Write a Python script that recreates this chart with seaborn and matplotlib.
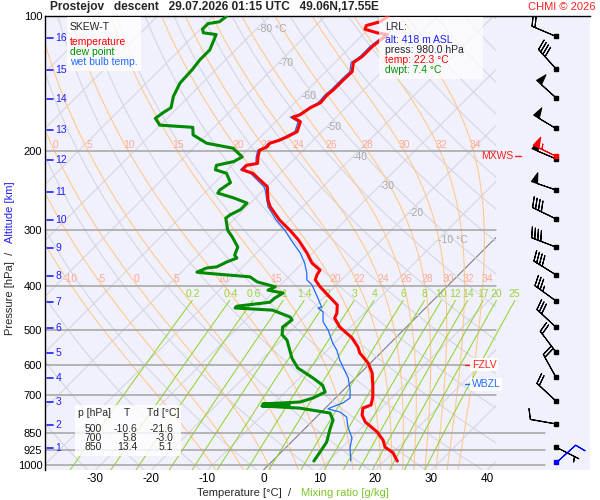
import numpy as np
import pandas as pd
import matplotlib
matplotlib.use("Agg")
import matplotlib.pyplot as plt
from matplotlib.patches import Rectangle
from matplotlib.ticker import NullLocator
import seaborn as sns

# ---------------- sounding ----------------
temp_p = [100, 103, 105, 107, 109, 110, 117, 123, 127, 133, 139, 146, 150, 156, 160,
          166, 168, 172, 181, 186, 189, 192, 196, 199, 206, 213, 215, 220, 224, 240,
          257, 266, 285, 300, 315, 337, 355, 368, 377, 387, 401, 423, 440, 459, 471,
          493, 521, 546, 563, 593, 624, 670, 706, 735, 747, 774, 802, 844, 880, 912,
          940, 980]
temp_t = [-58.8, -59.2, -61.0, -60.6, -57.8, -55.6, -56.2, -56.2, -56.7, -55.3, -55.4,
          -55.4, -55.6, -55.4, -56.3, -56.9, -57.8, -55.6, -54.4, -55.3, -56.0, -57.2,
          -57.1, -57.8, -56.9, -55.8, -57.4, -57.4, -54.9, -49.9, -47.4, -45.8, -41.7,
          -38.1, -34.9, -31.0, -28.3, -25.6, -25.3, -24.7, -22.6, -19.0, -16.3, -14.9,
          -14.4, -11.9, -7.8, -5.1, -3.7, -0.4, 2.1, 4.7, 6.5, 7.6, 6.7, 7.8, 9.6, 13.5,
          16.0, 17.6, 20.1, 22.3]

dwpt_p = [100, 103, 104, 107, 109, 110, 119, 125, 132, 141, 151, 160, 164, 169, 175,
          177, 184, 192, 197, 206, 211, 215, 220, 224, 235, 244, 248, 254, 261, 270,
          277, 282, 300, 311, 327, 341, 346, 353, 362, 364, 372, 374, 381, 391, 401,
          408, 414, 425, 434, 443, 447, 452, 468, 475, 493, 513, 527, 555, 578, 608,
          640, 664, 688, 709, 724, 731, 735, 739, 747, 766, 794, 836, 889, 936, 980]
dwpt_t = [-87.6, -87.9, -89.6, -89.6, -88.8, -86.2, -84.6, -84.6, -84.2, -84.0, -82.8,
          -81.2, -81.7, -82.1, -80.1, -73.8, -72.4, -68.5, -62.9, -59.7, -60.4, -62.8,
          -62.2, -59.6, -57.2, -57.8, -57.6, -54.0, -50.6, -50.6, -51.5, -51.7, -49.2,
          -47.1, -44.4, -43.5, -42.6, -43.7, -44.6, -46.2, -47.2, -45.3, -36.9, -34.7,
          -30.6, -31.3, -28.1, -28.7, -28.8, -34.0, -34.0, -26.9, -22.6, -21.7, -22.1,
          -20.8, -19.0, -16.7, -14.9, -12.1, -7.6, -4.6, -2.9, -4.0, -5.6, -11.9, -7.0,
          -11.7, -4.6, 1.7, 3.5, 4.7, 6.3, 6.9, 7.4]

wetb_p = [110, 117, 123, 127, 133, 139, 146, 150, 156, 160, 166, 168, 172, 181, 186,
          189, 192, 196, 199, 206, 213, 215, 220, 224, 240, 244, 266, 285, 300, 320,
          337, 355, 374, 387, 397, 423, 445, 447, 456, 480, 500, 535, 555, 584, 640,
          681, 709, 728, 743, 750, 762, 782, 823, 871, 916, 980]
wetb_t = [-56.0, -56.6, -56.6, -57.1, -55.7, -55.8, -55.8, -56.0, -55.8, -56.6, -57.2,
          -58.2, -56.0, -54.8, -55.7, -56.4, -57.5, -57.4, -58.1, -57.2, -56.1, -57.7,
          -57.7, -55.3, -50.5, -49.7, -46.2, -42.3, -39.0, -35.3, -32.2, -29.6, -27.4,
          -26.2, -24.4, -21.2, -18.7, -19.2, -17.6, -15.8, -13.5, -10.3, -8.3, -6.0,
          -1.3, 1.2, 2.6, 2.2, 1.0, 0.6, 3.3, 5.4, 7.4, 10.1, 11.5, 14.0]

# wind barbs (knots, direction from)
wind_p = [111, 131, 152, 178, 208, 244, 283, 327, 377, 431, 493, 560, 637, 720, 810, 912]
wind_dir = [293, 318, 312, 301, 293, 289, 296, 291, 302, 306, 313, 323, 331, 313, 280, 117]
wind_kt = [20, 40, 50, 50, 50, 50, 40, 40, 40, 35, 30, 20, 20, 20, 10, 5]
mxws_p, mxws_dir, mxws_kt = 205, 296, 55
sfc_p, sfc_dir, sfc_kt = 984, 48, 10

# altitude scale
alt_km = [16, 15, 14, 13, 12, 11, 10, 9, 8, 7, 6, 5, 4, 3, 2, 1]
alt_p = [111.9, 131.9, 153.0, 179.4, 209.3, 246.6, 284.7, 328.6, 379.4, 433.5,
         495.3, 563.1, 640.1, 723.9, 814.5, 916.5]

# table / LRL
tab_p = [500, 700, 850]
tab_t = [-10.6, 5.8, 13.4]
tab_td = [-21.6, -3.0, 5.1]
lrl_alt, lrl_press, lrl_temp, lrl_dwpt = 418, 980.0, 22.3, 7.4

# background lines
isobars = [200, 300, 400, 500, 600, 700, 850, 925, 1000]
isotherms = list(range(-170, 50, 10))
iso_labels = [-80, -70, -60, -50, -40, -30, -20, -10]
dry_theta = list(range(230, 490, 10))
moist_thw = [-10, -5, 0, 5, 10, 15, 20, 22, 24, 26, 28, 30, 32, 34]
mix_w = [0.2, 0.4, 0.6, 1, 1.4, 2, 3, 4, 6, 8, 10, 12, 14, 17, 20, 25]
xticks_t = [-30, -20, -10, 0, 10, 20, 30, 40]

# ---------------- geometry ----------------
P_BOT, P_TOP = 1026.0, 100.0
SKEW = 195 / 5.6          # 45 degree skew
X_MIN, X_MAX = -39.0, 58.3
X_CLIP = 41.5
X_BARB = 52.2


def skew_x(t, p):
    return np.asarray(t, float) + SKEW * np.log(P_BOT / np.asarray(p, float))


Rd, Cp, Lv, EPS = 287.04, 1005.7, 2.501e6, 0.622


def sat_mix(tk, p):
    tc = tk - 273.15
    es = 6.112 * np.exp(17.67 * tc / (tc + 243.5))
    return EPS * es / (p - es)


def dtdlnp(tk, p):
    r = sat_mix(tk, p)
    return (Rd * tk + Lv * r) / (Cp + Lv * Lv * r * EPS / (Rd * tk * tk))


def moist_adiabat(thw, p_end, n=250):
    lp = np.linspace(np.log(1000.0), np.log(p_end), n)
    t = [thw + 273.15]
    for a, b in zip(lp[:-1], lp[1:]):
        h = b - a
        tk = t[-1]
        k1 = dtdlnp(tk, np.exp(a))
        k2 = dtdlnp(tk + 0.5 * h * k1, np.exp(a + 0.5 * h))
        k3 = dtdlnp(tk + 0.5 * h * k2, np.exp(a + 0.5 * h))
        k4 = dtdlnp(tk + h * k3, np.exp(b))
        t.append(tk + h * (k1 + 2 * k2 + 2 * k3 + k4) / 6)
    return np.exp(lp), np.array(t) - 273.15


def zero_level(tt, pp):
    # lowest level (from the ground up) where the profile crosses 0 degC
    tt = np.asarray(tt, float)
    pp = np.asarray(pp, float)
    k = np.where((tt[:-1] < 0) & (tt[1:] >= 0))[0][-1]
    return np.exp(np.interp(0, [tt[k], tt[k + 1]], np.log([pp[k], pp[k + 1]])))


def fx(x):
    return x / 600


def fy(y):
    return 1 - y / 500


sns.set_style("white")
plt.rcParams['font.family'] = ['Liberation Sans', 'DejaVu Sans']
plt.rcParams['axes.unicode_minus'] = False

fig = plt.figure(figsize=(6, 5), dpi=100)
ax = fig.add_axes([fx(45), fy(470), 545 / 600, 454 / 500])
ax.set_facecolor('#F1F1FD')
ax.set_yscale('log')

clip = Rectangle((X_MIN, P_TOP), X_CLIP - X_MIN, P_BOT - P_TOP, transform=ax.transData)

# isotherms and dry adiabats
pp = np.geomspace(P_BOT, P_TOP, 120)
for t in isotherms:
    ln, = ax.plot(skew_x([t, t], [P_BOT, P_TOP]), [P_BOT, P_TOP],
                  color='#707070' if t == 0 else '#D6D6DE',
                  lw=0.7 if t == 0 else 0.8, zorder=1)
    ln.set_clip_path(clip)
for th in dry_theta:
    tt = th * (pp / 1000) ** 0.2857 - 273.15
    ln, = ax.plot(skew_x(tt, pp), pp, color='#D6D6DE', lw=0.8, zorder=1)
    ln.set_clip_path(clip)

for t in iso_labels:
    pl = 1000 * ((t + 273.15) / 366.0) ** 3.5
    txt = f'{t} °C' if t in (-80, -10) else f'{t}'
    ax.text(skew_x(t, pl), pl, txt, ha='left', va='center', fontsize=7.5,
            color='#A8A8A8', zorder=2)

# moist adiabats
for thw in moist_thw:
    p_up, t_up = moist_adiabat(thw, P_TOP)
    p_dn, t_dn = moist_adiabat(thw, P_BOT, n=10)
    p_all = np.concatenate([p_dn[::-1], p_up[1:]])
    t_all = np.concatenate([t_dn[::-1], t_up[1:]])
    ln, = ax.plot(skew_x(t_all, p_all), p_all, color='#FFC98F', lw=0.8, zorder=1.5)
    ln.set_clip_path(clip)
    for pl in (193.7, 385.0):
        xl = np.interp(np.log(pl), np.log(p_up[::-1]), skew_x(t_up, p_up)[::-1]) + 0.7
        if X_MIN + 1 < xl < X_CLIP - 1:
            ax.text(xl, pl, f'{thw:g}', ha='center', va='center', fontsize=7.5,
                    color='#FFAA90', zorder=2)

# mixing ratio lines
pm = np.geomspace(P_BOT, 430, 40)
for w in mix_w:
    e = (w / 1000) * pm / (EPS + w / 1000)
    lg = np.log(e / 6.112)
    td = 243.5 * lg / (17.67 - lg)
    ax.plot(skew_x(td, pm), pm, color='#99D43C', lw=0.8, zorder=1.6)
    e = (w / 1000) * 416 / (EPS + w / 1000)
    lg = np.log(e / 6.112)
    ax.text(skew_x(243.5 * lg / (17.67 - lg), 416) - 0.7, 416, f'{w:g}', ha='center',
            va='center', fontsize=7.5, color='#99D43C', zorder=2)

# isobars
for p in isobars:
    ax.axhline(p, xmin=0, xmax=0.917 if p >= 850 else 0.8275, color='#A4A4A4',
               lw=1.1, zorder=1.8)

# profiles
df_t = pd.DataFrame({'x': skew_x(temp_t, temp_p), 'p': temp_p})
df_d = pd.DataFrame({'x': skew_x(dwpt_t, dwpt_p), 'p': dwpt_p})
df_w = pd.DataFrame({'x': skew_x(wetb_t, wetb_p), 'p': wetb_p})
sns.lineplot(data=df_w, x='x', y='p', sort=False, estimator=None, color='#1F6BFF',
             lw=0.9, ax=ax, zorder=3)
sns.lineplot(data=df_d, x='x', y='p', sort=False, estimator=None, color='#008A00',
             lw=2.2, ax=ax, zorder=3.1)
sns.lineplot(data=df_t, x='x', y='p', sort=False, estimator=None, color='#FF0000',
             lw=2.2, ax=ax, zorder=3.2)

# wind barbs
BARB_LEN = 6.1
wd = np.radians(wind_dir)
u = -np.array(wind_kt) * np.sin(wd)
v = -np.array(wind_kt) * np.cos(wd)
bx = np.full(len(wind_p), X_BARB)
ax.barbs(bx, wind_p, u, v, length=BARB_LEN, linewidth=0.8, color='black', zorder=5)
ax.plot(bx, wind_p, 's', ms=2.4, color='black', zorder=5)
r = np.radians(mxws_dir)
ax.barbs([X_BARB], [mxws_p], [-mxws_kt * np.sin(r)], [-mxws_kt * np.cos(r)],
         length=BARB_LEN, linewidth=0.8, color='red', zorder=6)
ax.plot([X_BARB], [mxws_p], 's', ms=2.4, color='red', zorder=6)
r = np.radians(sfc_dir)
ax.barbs([X_BARB], [sfc_p], [-sfc_kt * np.sin(r)], [-sfc_kt * np.cos(r)],
         length=BARB_LEN, linewidth=0.8, color='blue', zorder=6)
ax.plot([X_BARB], [sfc_p], 's', ms=2.4, color='blue', zorder=6)

# freezing / wet-bulb zero levels, max wind
fzlv = zero_level(temp_t, temp_p)
wbzl = zero_level(wetb_t, wetb_p)
yax = ax.get_yaxis_transform()
for lev, name, col in ((fzlv, 'FZLV', '#FF2020'), (wbzl, 'WBZL', '#1F6BFF')):
    ax.plot([(465 - 45) / 545, (472 - 45) / 545], [lev, lev], color=col, lw=1,
            transform=yax, zorder=6)
    ax.text((472 - 45) / 545, lev, name, transform=yax, ha='left', va='center',
            fontsize=7.5, color=col, zorder=6,
            bbox=dict(boxstyle='square,pad=0.15', fc='white', ec='none', alpha=0.9))
ax.text((513 - 45) / 545, mxws_p, 'MXWS', transform=yax, ha='right', va='center',
        fontsize=7.5, color='#FF2020', zorder=6)
ax.plot([(515 - 45) / 545, (521 - 45) / 545], [mxws_p, mxws_p], color='#FF2020',
        lw=1, transform=yax, zorder=6)

# altitude ticks
for k, p in zip(alt_km, alt_p):
    ax.plot([0.004, 0.015], [p, p], color='#2020FF', lw=1.2, transform=yax, zorder=6)
    ax.text(0.019, p, f'{k}', transform=yax, ha='left', va='center', fontsize=7.5,
            color='#2020FF', zorder=6)

# axes styling
ax.set_xlim(X_MIN, X_MAX)
ax.set_ylim(P_BOT, P_TOP)
ax.set_xlabel('')
ax.set_ylabel('')
ax.set_xticks(xticks_t)
ax.set_xticklabels([f'{t}' for t in xticks_t])
ytk = [100, 200, 300, 400, 500, 600, 700, 850, 925, 1000]
ax.set_yticks(ytk)
ax.set_yticklabels([f'{t}' for t in ytk])
ax.yaxis.set_minor_locator(NullLocator())
ax.tick_params(axis='both', length=0, labelsize=8, colors='black')
ax.tick_params(axis='x', pad=2, labelsize=8.5)
ax.tick_params(axis='y', pad=2)
for s in ('bottom', 'right'):
    ax.spines[s].set_visible(False)
for s in ('left', 'top'):
    ax.spines[s].set_color('black')
    ax.spines[s].set_linewidth(1.0)

# header
fig.text(fx(50), fy(7), 'Prostejov   descent   29.07.2026 01:15 UTC   49.06N,17.55E',
         fontsize=8.6, fontweight='bold', ha='left', va='center')
fig.text(fx(596), fy(7), 'CHMI © 2026', fontsize=8, color='#FF2020', ha='right',
         va='center')

# axis titles
fig.text(fx(291), fy(493), 'Temperature [°C]  /', fontsize=8, ha='right', va='center')
fig.text(fx(301), fy(493), 'Mixing ratio [g/kg]', fontsize=8, ha='left', va='center',
         color='#7CC62A')
fig.text(fx(10), fy(252), 'Pressure [hPa]  /', fontsize=8, rotation=90, ha='center',
         va='top')
fig.text(fx(10), fy(243), 'Altitude [km]', fontsize=8, rotation=90, ha='center',
         va='bottom', color='#2020FF')

# legend box
fig.add_artist(Rectangle((fx(67), fy(71)), 74 / 600, 54 / 500, transform=fig.transFigure,
                         facecolor='white', edgecolor='none', alpha=0.8, zorder=2))
fig.text(fx(70), fy(27), 'SKEW-T', fontsize=7.5, va='center')
fig.text(fx(70), fy(42), 'temperature', fontsize=7.5, va='center', color='#FF0000')
fig.text(fx(70), fy(52), 'dew point', fontsize=7.5, va='center', color='#009000')
fig.text(fx(70), fy(62), 'wet bulb temp.', fontsize=7.5, va='center', color='#1F6BFF')

# LRL box
fig.add_artist(Rectangle((fx(379), fy(79)), 104 / 600, 62 / 500, transform=fig.transFigure,
                         facecolor='white', edgecolor='none', alpha=0.7, zorder=2))
fig.text(fx(385), fy(27), 'LRL:', fontsize=7.5, va='center')
fig.text(fx(385), fy(40), f'alt: {lrl_alt} m ASL', fontsize=7.5, va='center',
         color='#2020FF')
fig.text(fx(385), fy(50), f'press: {lrl_press:.1f} hPa', fontsize=7.5, va='center')
fig.text(fx(385), fy(60), f'temp: {lrl_temp:.1f} °C', fontsize=7.5, va='center',
         color='#FF0000')
fig.text(fx(385), fy(70), f'dwpt: {lrl_dwpt:.1f} °C', fontsize=7.5, va='center',
         color='#009000')

# table box
fig.add_artist(Rectangle((fx(75), fy(456)), 106 / 600, 51 / 500, transform=fig.transFigure,
                         facecolor='white', edgecolor='none', alpha=0.8, zorder=2))
fig.text(fx(78), fy(413), 'p [hPa]', fontsize=7.5, va='center')
fig.text(fx(127), fy(413), 'T', fontsize=7.5, va='center', ha='center')
fig.text(fx(147), fy(413), 'Td [°C]', fontsize=7.5, va='center')
for n, (p, t, td) in enumerate(zip(tab_p, tab_t, tab_td)):
    yy = 428.5 + 9.5 * n
    fig.text(fx(102), fy(yy), f'{p}', fontsize=7.5, va='center', ha='right')
    fig.text(fx(137), fy(yy), f'{t:.1f}', fontsize=7.5, va='center', ha='right')
    fig.text(fx(173), fy(yy), f'{td:.1f}', fontsize=7.5, va='center', ha='right')

fig.savefig('out.png', dpi=100, facecolor='white')
